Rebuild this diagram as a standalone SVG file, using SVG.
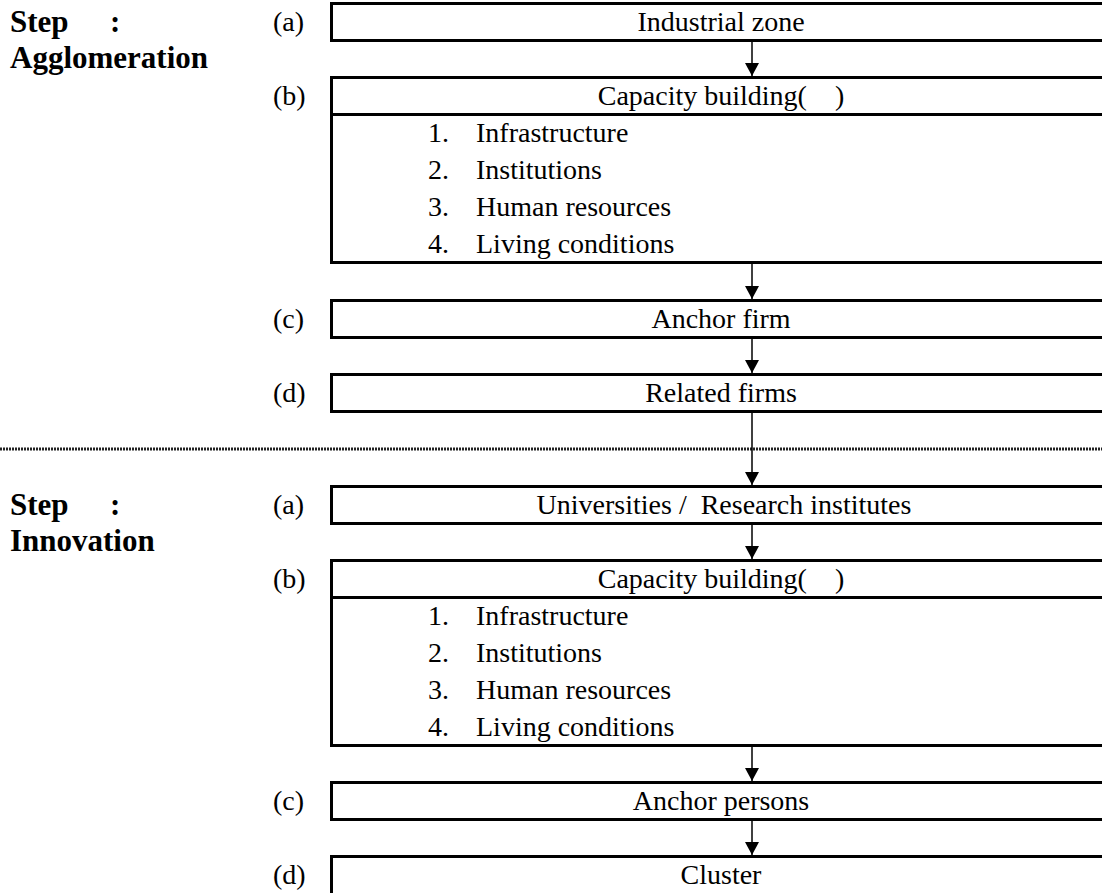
<svg xmlns="http://www.w3.org/2000/svg" width="1102" height="893" viewBox="0 0 1102 893">
<style>
text{font-family:'Liberation Serif','Times New Roman',Times,serif}
.t{font-size:28px;fill:#000}
.c{text-anchor:middle}
.s{font-size:31px;font-weight:bold;fill:#000}
.box{fill:none;stroke:#000;stroke-width:3}
.ln{stroke:#000;stroke-width:1.5}
</style>
<defs>
<marker id="ah" markerWidth="13" markerHeight="14" refX="13" refY="7" orient="auto" markerUnits="userSpaceOnUse" viewBox="0 0 13 14">
<path d="M0,0 L13,7 L0,14 Z" fill="#000"/>
</marker>
</defs>
<rect width="1102" height="893" fill="#fff"/>

<g id="steps">
<text class="s" x="10" y="32">Step</text><text class="s" x="110" y="32">:</text>
<text class="s" x="10" y="68">Agglomeration</text>
<text class="s" x="10" y="515">Step</text><text class="s" x="110" y="515">:</text>
<text class="s" x="10" y="551">Innovation</text>
</g>

<g id="separator"><line x1="0" y1="449" x2="1102" y2="449" stroke="#222" stroke-width="3" stroke-dasharray="2 1"/></g>

<g id="n1a"><rect class="box" x="331.5" y="3.5" width="900" height="37"/><text class="t" x="273" y="31">(a)</text><text class="t c" x="721" y="31">Industrial zone</text></g>
<g id="n1b"><rect class="box" x="331.5" y="77.5" width="900" height="185"/><line class="box" x1="331.5" y1="114.5" x2="1102" y2="114.5"/><text class="t" x="273" y="105">(b)</text><text class="t c" x="721" y="105" xml:space="preserve">Capacity building(    )</text>
<text class="t" x="428" y="142">1.</text><text class="t" x="476" y="142">Infrastructure</text>
<text class="t" x="428" y="179">2.</text><text class="t" x="476" y="179">Institutions</text>
<text class="t" x="428" y="216">3.</text><text class="t" x="476" y="216">Human resources</text>
<text class="t" x="428" y="253">4.</text><text class="t" x="476" y="253">Living conditions</text></g>
<g id="n1c"><rect class="box" x="331.5" y="300.5" width="900" height="37"/><text class="t" x="273" y="328">(c)</text><text class="t c" x="721" y="328">Anchor firm</text></g>
<g id="n1d"><rect class="box" x="331.5" y="374.5" width="900" height="37"/><text class="t" x="273" y="402">(d)</text><text class="t c" x="721" y="402">Related firms</text></g>

<g id="n2a"><rect class="box" x="331.5" y="486.5" width="900" height="37"/><text class="t" x="273" y="514">(a)</text><text class="t c" x="724" y="514" xml:space="preserve">Universities /  Research institutes</text></g>
<g id="n2b"><rect class="box" x="331.5" y="560.5" width="900" height="185"/><line class="box" x1="331.5" y1="597.5" x2="1102" y2="597.5"/><text class="t" x="273" y="588">(b)</text><text class="t c" x="721" y="588" xml:space="preserve">Capacity building(    )</text>
<text class="t" x="428" y="625">1.</text><text class="t" x="476" y="625">Infrastructure</text>
<text class="t" x="428" y="662">2.</text><text class="t" x="476" y="662">Institutions</text>
<text class="t" x="428" y="699">3.</text><text class="t" x="476" y="699">Human resources</text>
<text class="t" x="428" y="736">4.</text><text class="t" x="476" y="736">Living conditions</text></g>
<g id="n2c"><rect class="box" x="331.5" y="782.5" width="900" height="37"/><text class="t" x="273" y="810">(c)</text><text class="t c" x="721" y="810">Anchor persons</text></g>
<g id="n2d"><rect class="box" x="331.5" y="856.5" width="900" height="60"/><text class="t" x="273" y="884">(d)</text><text class="t c" x="721" y="884">Cluster</text></g>

<g id="connectors">
<line class="ln" x1="752" y1="42" x2="752" y2="76" marker-end="url(#ah)"/>
<line class="ln" x1="752" y1="264" x2="752" y2="299" marker-end="url(#ah)"/>
<line class="ln" x1="752" y1="339" x2="752" y2="373" marker-end="url(#ah)"/>
<line class="ln" x1="752" y1="413" x2="752" y2="485" marker-end="url(#ah)"/>
<line class="ln" x1="752" y1="525" x2="752" y2="559" marker-end="url(#ah)"/>
<line class="ln" x1="752" y1="747" x2="752" y2="781" marker-end="url(#ah)"/>
<line class="ln" x1="752" y1="821" x2="752" y2="855" marker-end="url(#ah)"/>
</g>
</svg>
